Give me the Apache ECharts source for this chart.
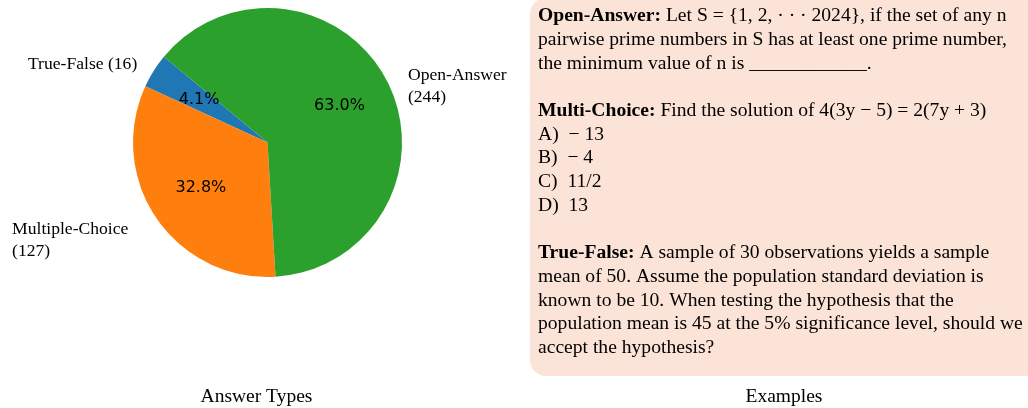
<!DOCTYPE html>
<html>
<head>
<meta charset="utf-8">
<script src="https://cdn.jsdelivr.net/npm/echarts@6/dist/echarts.min.js"></script>
<style>
  html, body { margin: 0; padding: 0; background: #ffffff; }
  #chart { width: 1028px; height: 408px; }
</style>
</head>
<body>
<div id="chart"></div>
<script>
// ---- data ----
const categories = ['True-False', 'Multiple-Choice', 'Open-Answer'];
const counts = [16, 127, 244];
const labelSeparators = [' ', '\n', '\n'];
const sliceColors = ['#1f77b4', '#ff7f0e', '#2ca02c'];
const leftCaption = 'Answer Types';
const rightCaption = 'Examples';
const exampleLines = [
  '{b|Open-Answer:} Let S = {1, 2, · · · 2024}, if the set of any n',
  'pairwise prime numbers in S has at least one prime number,',
  'the minimum value of n is ____________.',
  '',
  '{b|Multi-Choice:} Find the solution of 4(3y − 5) = 2(7y + 3)',
  'A)  − 13',
  'B)  − 4',
  'C)  11/2',
  'D)  13',
  '',
  '{b|True-False:} A sample of 30 observations yields a sample',
  'mean of 50. Assume the population standard deviation is',
  'known to be 10. When testing the hypothesis that the',
  'population mean is 45 at the 5% significance level, should we',
  'accept the hypothesis?'
];

// ---- layout/style ----
const total = counts.reduce((a, b) => a + b, 0);
const R = 134.5;
const center = [267.5, 142.5];
const labelNudge = [[-5, 1], [-17, 14], [8.5, 11]];

const pieData = categories.map((c, i) => ({
  name: c,
  value: counts[i],
  itemStyle: { color: sliceColors[i] }
}));

const chart = echarts.init(document.getElementById('chart'), null, { renderer: 'canvas' });

const serif = '"Liberation Serif", "Times New Roman", serif';
const textFontSize = 19.6;
const lh = 23.7;

chart.setOption({
  animation: false,
  series: [
    {
      type: 'pie',
      center: center,
      radius: R,
      startAngle: 140.4,
      clockwise: false,
      avoidLabelOverlap: false,
      silent: true,
      itemStyle: { borderWidth: 0 },
      emphasis: { disabled: true },
      label: {
        show: true,
        position: 'outside',
        distanceToLabelLine: 0,
        fontFamily: serif,
        fontSize: 17.6,
        lineHeight: 22,
        color: '#000',
        formatter: p => p.name + labelSeparators[p.dataIndex] + '(' + p.value + ')'
      },
      labelLine: { show: false, length: R * 0.1, length2: 0 },
      labelLayout: function (params) {
        const i = params.dataIndex;
        const r = params.labelRect;
        return {
          x: r.x + labelNudge[i][0],
          y: r.y + r.height / 2 + labelNudge[i][1],
          align: 'left',
          verticalAlign: 'middle'
        };
      },
      data: pieData
    },
    {
      type: 'pie',
      center: center,
      radius: [R * 0.2 - 6, R],
      startAngle: 140.4,
      clockwise: false,
      avoidLabelOverlap: false,
      silent: true,
      itemStyle: { color: 'rgba(0,0,0,0)', borderWidth: 0 },
      emphasis: { disabled: true },
      label: {
        show: true,
        position: 'inside',
        fontFamily: '"DejaVu Sans", sans-serif',
        fontSize: 16,
        color: '#000',
        formatter: p => (p.value / total * 100).toFixed(1) + '%'
      },
      labelLine: { show: false },
      data: categories.map((c, i) => ({ name: c, value: counts[i] }))
    }
  ],
  graphic: [
    {
      type: 'rect',
      z: -10,
      shape: { x: 530, y: -2, width: 540, height: 378, r: 16 },
      style: { fill: '#fce3d7' },
      silent: true
    },
    {
      type: 'text',
      x: 538,
      y: 16 - lh / 2,
      silent: true,
      style: {
        text: exampleLines.join('\n'),
        fontFamily: serif,
        fontSize: textFontSize,
        lineHeight: lh,
        fill: '#000',
        align: 'left',
        verticalAlign: 'top',
        rich: {
          b: { fontFamily: serif, fontSize: textFontSize, fontWeight: 'bold', lineHeight: lh, fill: '#000' }
        }
      }
    },
    {
      type: 'text',
      x: 256.5,
      y: 397,
      silent: true,
      style: { text: leftCaption, fontFamily: serif, fontSize: 19.5, fill: '#000', align: 'center', verticalAlign: 'middle' }
    },
    {
      type: 'text',
      x: 784,
      y: 397,
      silent: true,
      style: { text: rightCaption, fontFamily: serif, fontSize: 19.5, fill: '#000', align: 'center', verticalAlign: 'middle' }
    }
  ]
});
</script>
</body>
</html>
